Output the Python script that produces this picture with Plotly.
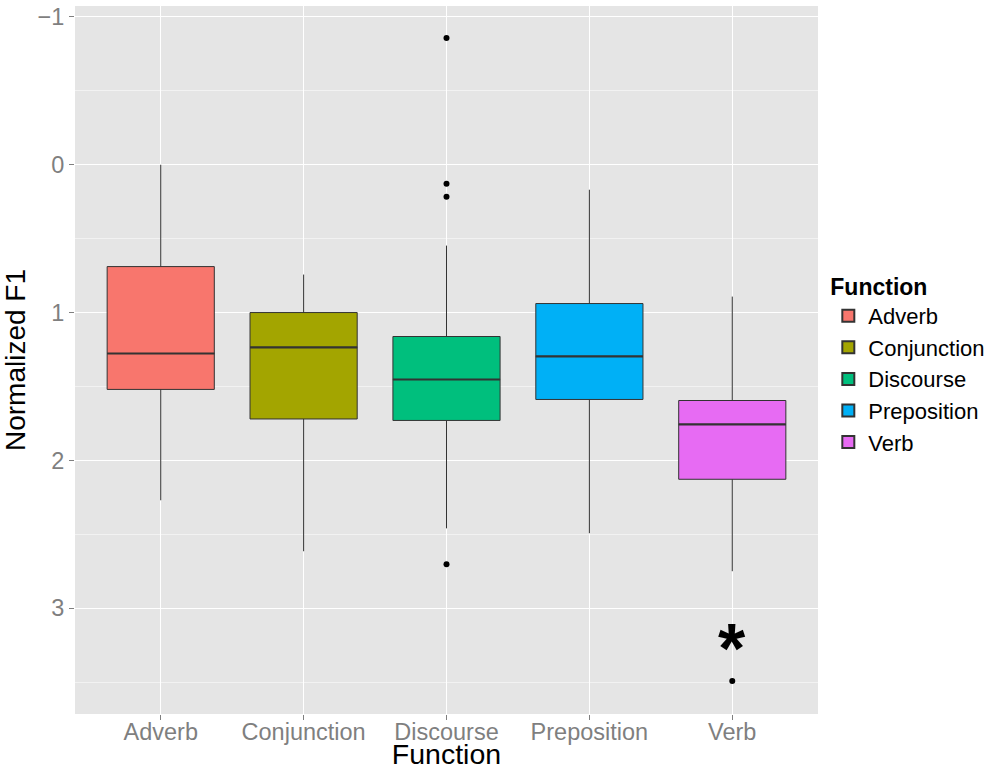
import plotly.graph_objects as go

# Box statistics of normalized F1 per function
categories = ["Adverb", "Conjunction", "Discourse", "Preposition", "Verb"]
colors = ["#F8766D", "#A3A500", "#00BF7D", "#00B0F6", "#E76BF3"]
lower_whisker = [0.00, 0.743, 0.547, 0.169, 0.892]
q1 = [0.689, 1.00, 1.162, 0.939, 1.595]
median = [1.277, 1.236, 1.453, 1.297, 1.757]
q3 = [1.52, 1.72, 1.73, 1.588, 2.128]
upper_whisker = [2.27, 2.615, 2.46, 2.493, 2.75]

# Outlying observations
outlier_cat = ["Discourse", "Discourse", "Discourse", "Discourse", "Verb"]
outlier_val = [-0.858, 0.128, 0.216, 2.703, 3.493]

# Significance marker
star_cat = "Verb"
star_val = 3.21

y_ticks = [-1, 0, 1, 2, 3]

FONT = "Liberation Sans, Arial, Helvetica, sans-serif"
GREY = "#7f7f7f"
BOX_WIDTH = 0.75

fig = go.Figure()

for i, cat in enumerate(categories):
    fig.add_trace(go.Box(
        name=cat,
        x=[cat],
        q1=[q1[i]],
        median=[median[i]],
        q3=[q3[i]],
        lowerfence=[lower_whisker[i]],
        upperfence=[upper_whisker[i]],
        fillcolor=colors[i],
        line=dict(color="#333333", width=1),
        whiskerwidth=0,
        boxpoints=False,
        width=BOX_WIDTH,
        showlegend=True,
        hoverinfo="skip",
    ))
    # thicker median bar, as drawn by ggplot
    fig.add_shape(
        type="line", xref="x", yref="y",
        x0=i - BOX_WIDTH / 2, x1=i + BOX_WIDTH / 2,
        y0=median[i], y1=median[i],
        line=dict(color="#333333", width=2.2),
    )

fig.add_trace(go.Scatter(
    x=outlier_cat, y=outlier_val, mode="markers",
    marker=dict(color="black", size=6),
    showlegend=False, hoverinfo="skip",
))

fig.add_annotation(
    x=star_cat, y=star_val, text="<b>*</b>", showarrow=False,
    font=dict(family=FONT, size=70, color="black"),
    xanchor="center", yanchor="middle", yshift=-10,
)

fig.update_layout(
    width=992, height=770,
    margin=dict(l=75, r=174, t=6, b=56, autoexpand=False),
    paper_bgcolor="white",
    plot_bgcolor="#E5E5E5",
    boxmode="overlay",
    font=dict(family=FONT, color="black"),
    legend=dict(
        title=dict(text="<b>Function</b>", font=dict(size=23, color="black")),
        font=dict(size=22, color="black"),
        xref="container", yref="container",
        x=0.835, y=1 - 265 / 770, xanchor="left", yanchor="top",
        tracegroupgap=0, itemsizing="constant",
        bgcolor="rgba(0,0,0,0)",
    ),
    xaxis=dict(
        type="category",
        categoryorder="array", categoryarray=categories,
        range=[-0.6, 4.6],
        automargin=False,
        showgrid=True, gridcolor="white", gridwidth=1.3,
        ticks="outside", ticklen=5, tickcolor=GREY, tickwidth=1,
        ticklabelstandoff=-8,
        tickfont=dict(size=23.5, color=GREY),
        title=dict(text="Function", font=dict(size=28.5, color="black"), standoff=0),
        zeroline=False, showline=False,
    ),
    yaxis=dict(
        range=[3.716, -1.074],
        tickvals=y_ticks,
        automargin=False,
        showgrid=True, gridcolor="white", gridwidth=1.3,
        minor=dict(dtick=0.5, tick0=0, showgrid=True, gridcolor="#F2F2F2", gridwidth=0.6, ticks=""),
        ticks="outside", ticklen=5, tickcolor=GREY, tickwidth=1,
        tickfont=dict(size=23.5, color=GREY),
        title=dict(text="Normalized F1", font=dict(size=28, color="black"), standoff=10),
        zeroline=False, showline=False,
    ),
)

fig.write_html("out.html")
